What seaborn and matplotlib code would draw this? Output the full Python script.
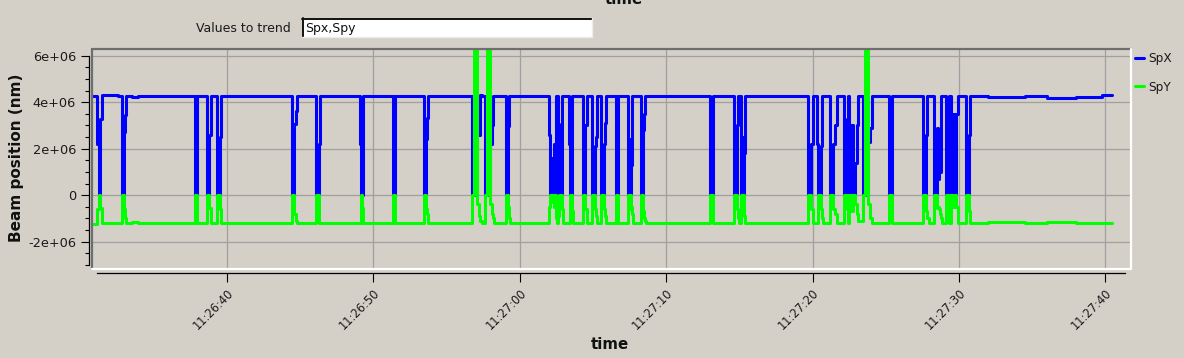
import numpy as np
import pandas as pd
import matplotlib
matplotlib.use('Agg')
import matplotlib.pyplot as plt
import matplotlib.dates as mdates
import matplotlib.ticker as mticker
from matplotlib.lines import Line2D
from matplotlib.patches import Rectangle
import seaborn as sns

sns.set_theme(style='white')
plt.rcParams['font.family'] = ['DejaVu Sans']

# ---------------- data ----------------
# breakpoints of the step trend: seconds after 11:26:30, values in units of 1e6 nm
t_sec = [0.85, 1.14, 1.26, 1.35, 1.46, 2.55,
         2.85, 2.96, 3.05, 3.12, 3.50, 3.90,
         7.83, 7.97,
         8.63, 8.75, 8.89,
         9.32, 9.50, 9.61,
         14.44, 14.60, 14.71, 14.78,
         16.10, 16.26, 16.33,
         19.08, 19.15, 19.23, 19.31,
         21.36, 21.50,
         23.46, 23.62, 23.67, 23.71,
         26.74, 26.87, 27.10, 27.19, 27.30, 27.45,
         27.60, 27.76, 27.99, 28.08, 28.15, 28.22,
         29.06, 29.19, 29.28, 29.35,
         32.00, 32.07, 32.18, 32.25, 32.32, 32.39, 32.46, 32.52,
         32.63, 32.70, 32.86, 32.93,
         33.38, 33.43, 33.59, 33.66,
         34.34, 34.48, 34.57,
         34.95, 35.14, 35.22, 35.29,
         35.53, 35.75, 35.82, 35.89,
         36.57, 36.73,
         37.41, 37.58, 37.63, 37.67, 37.75,
         38.26, 38.42, 38.50, 38.55, 38.65,
         42.99, 43.18,
         44.63, 44.81, 44.90, 44.97,
         45.11, 45.29, 45.33, 45.38,
         49.71, 49.87, 50.01,
         50.32, 50.39, 50.55, 50.62, 50.70,
         51.19, 51.37, 51.51, 51.64,
         52.17, 52.33, 52.44, 52.51, 52.62, 52.74, 52.90, 53.01, 53.12,
         53.46, 53.58, 53.80, 53.93, 54.04,
         55.24, 55.42,
         57.56, 57.72, 57.84, 57.92,
         58.29, 58.48, 58.55, 58.61, 58.70, 58.76, 58.82,
         59.11, 59.30,
         59.43, 59.57, 59.68, 59.80, 59.91,
         60.48, 60.66, 60.72, 60.75,
         62.00, 64.50, 66.00, 68.00, 69.80, 70.45]

spx_M = [4.28, 2.20, 0.00, 3.27, 4.31, 4.26,
         0.00, 2.70, 3.45, 4.25, 4.21, 4.26,
         0.00, 4.26,
         0.00, 2.60, 4.28,
         0.00, 2.50, 4.26,
         0.00, 3.05, 3.60, 4.25,
         0.00, 2.20, 4.25,
         2.20, 0.00, 0.00, 4.25,
         0.00, 4.25,
         0.00, 2.40, 3.30, 4.25,
         0.00, 0.00, 3.20, 2.60, 4.30, 4.25,
         0.00, 0.00, 2.20, 3.00, 4.25, 4.25,
         0.00, 2.98, 4.25, 4.25,
         2.60, 0.00, 1.60, 0.00, 2.20, 0.00, 4.25, 4.25,
         3.05, 0.00, 4.25, 4.25,
         2.20, 0.00, 4.25, 4.25,
         0.00, 3.00, 4.25,
         0.00, 2.10, 2.50, 4.25,
         0.00, 2.20, 3.10, 4.25,
         0.00, 4.25,
         0.00, 2.40, 1.30, 4.25, 4.25,
         0.00, 2.80, 3.50, 4.25, 4.25,
         0.00, 4.25,
         0.00, 3.00, 4.25, 4.25,
         0.00, 2.50, 1.80, 4.25,
         0.00, 2.20, 4.25,
         2.20, 0.00, 2.10, 4.25, 4.25,
         0.00, 2.20, 3.00, 4.25,
         0.00, 3.27, 4.25, 0.00, 3.00, 0.00, 1.40, 3.00, 4.25,
         0.00, 0.00, 2.30, 2.90, 4.25,
         0.00, 4.25,
         0.00, 2.60, 4.25, 4.25,
         0.00, 2.90, 0.70, 2.60, 1.00, 4.25, 4.25,
         0.00, 4.25,
         0.00, 3.50, 0.00, 3.50, 4.25,
         0.00, 2.60, 3.40, 4.25,
         4.22, 4.27, 4.20, 4.24, 4.30, 4.30]

spy_M = [-1.24, -0.60, 0.00, -0.55, -1.19, -1.20,
         0.00, -0.60, -1.00, -1.19, -1.17, -1.19,
         0.00, -1.19,
         0.00, -0.55, -1.19,
         0.00, -0.60, -1.19,
         0.00, -0.80, -1.10, -1.19,
         0.00, -1.19, -1.19,
         -1.19, 0.00, -0.55, -1.19,
         0.00, -1.19,
         0.00, -0.60, -0.80, -1.19,
         0.00, 7.50, -0.40, -0.90, -1.10, -1.19,
         0.00, 7.50, -0.40, -0.80, -1.00, -1.19,
         0.00, -0.50, -1.00, -1.19,
         -0.50, 0.00, -0.30, 0.00, -0.50, 0.00, -1.00, -1.19,
         -0.90, 0.00, -0.60, -1.19,
         -1.19, 0.00, -0.70, -1.19,
         0.00, -0.60, -1.19,
         0.00, -0.60, -0.90, -1.19,
         0.00, -0.60, -0.90, -1.19,
         0.00, -1.19,
         0.00, -0.60, -0.50, -0.80, -1.19,
         0.00, -0.70, -1.00, -1.10, -1.19,
         0.00, -1.19,
         0.00, -0.60, -1.00, -1.19,
         0.00, -0.60, -0.90, -1.19,
         0.00, -0.60, -1.19,
         -1.19, 0.00, -0.60, -1.00, -1.19,
         0.00, -0.60, -0.80, -1.19,
         0.00, -0.60, -1.19, 0.00, -0.70, 0.00, -0.40, -0.80, -1.10,
         0.00, 7.50, -0.40, -1.00, -1.19,
         0.00, -1.19,
         0.00, -0.70, -1.00, -1.19,
         0.00, -0.55, -0.50, -0.60, -0.80, -1.00, -1.19,
         0.00, -1.19,
         0.00, -0.50, 0.00, -0.50, -1.19,
         0.00, -0.70, -1.00, -1.19,
         -1.17, -1.20, -1.17, -1.19, -1.19, -1.19]

series_names = ['SpX', 'SpY']
series_colors = ['#0000ff', '#00ff00']
y_ticks = [-2e6, 0, 2e6, 4e6, 6e6]
x_label = 'time'
y_label = 'Beam position (nm)'
trend_label = 'Values to trend'
trend_value = 'Spx,Spy'

# ---------------- build data frame ----------------
base = pd.Timestamp('2000-01-01 11:26:30')
times = base + pd.to_timedelta(np.array(t_sec), unit='s')
df = pd.DataFrame({'time': times,
                   'SpX': np.array(spx_M) * 1e6,
                   'SpY': np.array(spy_M) * 1e6})
long = df.melt(id_vars='time', value_vars=series_names,
               var_name='series', value_name='value')

# ---------------- figure ----------------
W, H = 1184, 358
BG = '#d4d0c8'
fig = plt.figure(figsize=(W / 100, H / 100), dpi=100, facecolor=BG)

def fx(px):
    return px / W

def fy(py):
    return 1 - py / H

ax_l, ax_r, ax_t, ax_b = 92, 1131, 49, 269
ax = fig.add_axes([fx(ax_l), fy(ax_b), (ax_r - ax_l) / W, (ax_b - ax_t) / H])
ax.set_facecolor(BG)

sns.lineplot(data=long, x='time', y='value', hue='series',
             hue_order=series_names, palette=series_colors,
             drawstyle='steps-post', estimator=None, linewidth=2.2,
             legend=False, ax=ax)

def tt(s):
    return mdates.date2num(base + pd.Timedelta(seconds=s))

ax.set_xlim(tt(0.78), tt(71.75))
ax.set_ylim(-3.18e6, 6.29e6)

ax.xaxis.set_major_locator(mdates.SecondLocator(bysecond=range(0, 60, 10)))
ax.xaxis.set_major_formatter(mdates.DateFormatter('%H:%M:%S'))
ax.yaxis.set_major_locator(mticker.FixedLocator(y_ticks))
ax.yaxis.set_minor_locator(mticker.MultipleLocator(0.5e6))
ax.yaxis.set_major_formatter(mticker.FuncFormatter(lambda v, p: f'{v:g}'))

ax.grid(True, which='major', color='#a0a0a0', linewidth=0.9)
ax.set_axisbelow(True)
ax.set_xlabel('')
ax.set_ylabel('')

for s in ['top', 'right']:
    ax.spines[s].set_visible(False)
ax.spines['left'].set_position(('outward', 2.2))
ax.spines['bottom'].set_position(('outward', 2.9))
for s in ['left', 'bottom']:
    ax.spines[s].set_color('black')
    ax.spines[s].set_linewidth(0.9)
ax.spines['left'].set_bounds(-3.0e6, 6e6)
ax.spines['bottom'].set_bounds(tt(1.12), tt(71.34))

ax.tick_params(axis='y', which='major', direction='out', length=5.8, width=0.8,
               color='black', left=True, labelsize=9.3, labelcolor='#1a1a1a', pad=3.5)
ax.tick_params(axis='y', which='minor', direction='out', length=2.9, width=0.8,
               color='black', left=True)
ax.tick_params(axis='x', which='major', direction='out', length=6.5, width=0.8,
               color='black', bottom=True, labelsize=8.3, labelcolor='#1a1a1a', pad=3)
for lab in ax.get_xticklabels():
    lab.set_rotation(45)
    lab.set_ha('right')
    lab.set_va('top')
    lab.set_rotation_mode('anchor')

# sunken frame of the plot canvas
ax.add_line(Line2D([0, 1], [1, 1], transform=ax.transAxes, color='#6e6e6e', lw=1.6, clip_on=False))
ax.add_line(Line2D([0, 0], [0, 1], transform=ax.transAxes, color='#6e6e6e', lw=1.6, clip_on=False))
ax.add_line(Line2D([0, 1], [0, 0], transform=ax.transAxes, color='white', lw=1.6, clip_on=False))
ax.add_line(Line2D([1, 1], [0, 1], transform=ax.transAxes, color='white', lw=1.6, clip_on=False))

# axis titles
fig.text(fx(16.8), fy(158), y_label, rotation=90, ha='center', va='center',
         fontsize=11, fontweight='bold', color='#111111')
fig.text(fx(610), fy(349), x_label, ha='center', va='baseline',
         fontsize=10.8, fontweight='bold', color='#111111')
fig.text(fx(624), fy(4.5), x_label, ha='center', va='baseline',
         fontsize=10.8, fontweight='bold', color='#111111')

# "Values to trend" entry
fig.text(fx(195.5), fy(32), trend_label, ha='left', va='baseline', fontsize=9, color='#1a1a1a')
fig.add_artist(Rectangle((fx(302), fy(37)), 290 / W, 19 / H, transform=fig.transFigure,
                         facecolor='white', edgecolor='none'))
fig.add_artist(Line2D([fx(302), fx(592)], [fy(18.7), fy(18.7)], transform=fig.transFigure,
                      color='#111111', lw=1.4))
fig.add_artist(Line2D([fx(302.7), fx(302.7)], [fy(18), fy(37)], transform=fig.transFigure,
                      color='#111111', lw=1.4))
fig.add_artist(Line2D([fx(302), fx(592)], [fy(36.6), fy(36.6)], transform=fig.transFigure,
                      color='#ececec', lw=1.0))
fig.add_artist(Line2D([fx(591.6), fx(591.6)], [fy(18), fy(37)], transform=fig.transFigure,
                      color='#ececec', lw=1.0))
fig.text(fx(305), fy(32), trend_value, ha='left', va='baseline', fontsize=9, color='#111111')

# legend
handles = [Line2D([], [], color=c, lw=2.2) for c in series_colors]
ax.legend(handles, series_names, loc='upper left', bbox_to_anchor=(fx(1135), fy(52)),
          bbox_transform=fig.transFigure, frameon=False, fontsize=8.7,
          handlelength=0.75, handletextpad=0.35, labelspacing=1.3,
          borderpad=0, borderaxespad=0, labelcolor='#1a1a1a')

fig.savefig('out.png', dpi=100, facecolor=BG)
